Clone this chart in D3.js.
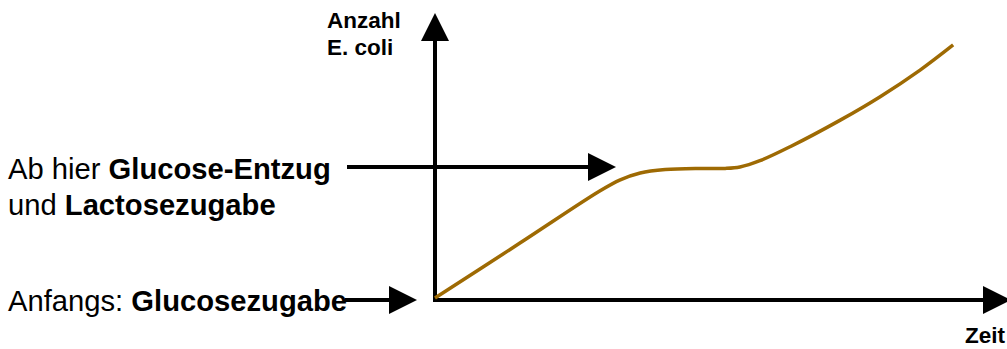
<!DOCTYPE html>
<html>
<head>
<meta charset="utf-8">
<script src="https://cdn.jsdelivr.net/npm/d3@7"></script>
<style>
  html, body { margin: 0; padding: 0; background: #fff; }
  svg { display: block; }
  text { font-family: "Liberation Sans", Arial, Helvetica, sans-serif; fill: #000; }
</style>
</head>
<body>
<svg id="chart" width="1007" height="349"></svg>
<script>
// ---- data (arbitrary units) ----
const time  = [0, 14.9, 28.9, 32.5, 36.0, 40.4, 46.5, 50.9, 53.5, 57.0, 62.3, 71.1, 78.1, 85.1, 90.9];
const count = [0, 19.2, 37.4, 41.3, 43.7, 44.9, 45.3, 45.3, 45.8, 48.0, 52.9, 62.2, 70.4, 79.7, 88.5];
const yAxisLabel = ["Anzahl", "E. coli"];
const xAxisLabel = "Zeit";
const annotations = [
  { lines: [[{ t: "Ab hier ", b: false }, { t: "Glucose-Entzug", b: true }],
            [{ t: "und ", b: false }, { t: "Lactosezugabe", b: true }]],
    arrowFrom: 347, arrowTo: 616, arrowY: 167, textY: 179 },
  { lines: [[{ t: "Anfangs: ", b: false }, { t: "Glucosezugabe", b: true }]],
    arrowFrom: 345, arrowTo: 417, arrowY: 300, textY: 311 }
];

const svg = d3.select("#chart");
const x = d3.scaleLinear().domain([0, 100]).range([435, 1005]);
const y = d3.scaleLinear().domain([0, 100]).range([298, 12]);

const axisY0 = 300, axisX0 = 435;

function arrowHead(tipX, tipY, dir) {
  const L = 28, H = 14;
  let pts;
  if (dir === "up") pts = [[tipX, tipY], [tipX - H, tipY + L], [tipX + H, tipY + L]];
  else pts = [[tipX, tipY], [tipX - L, tipY - H], [tipX - L, tipY + H]];
  svg.append("polygon").attr("points", pts.map(p => p.join(",")).join(" ")).attr("fill", "#000");
}

// y axis
svg.append("line").attr("x1", axisX0).attr("x2", axisX0).attr("y1", axisY0 + 2).attr("y2", 40)
  .attr("stroke", "#000").attr("stroke-width", 4);
arrowHead(axisX0, 13, "up");
// x axis
svg.append("line").attr("x1", axisX0 - 2).attr("x2", 985).attr("y1", axisY0).attr("y2", axisY0)
  .attr("stroke", "#000").attr("stroke-width", 4);
arrowHead(1011, axisY0, "right");

// curve
const line = d3.line().x((d, i) => x(time[i])).y((d, i) => y(count[i])).curve(d3.curveCatmullRom.alpha(0.5));
svg.append("path").attr("d", line(count)).attr("fill", "none")
  .attr("stroke", "#9E6A03").attr("stroke-width", 3.5).attr("stroke-linecap", "butt");

// axis labels
const yl = svg.append("text").attr("font-size", 22.5).attr("font-weight", "bold");
yl.append("tspan").attr("x", 327).attr("y", 28).text(yAxisLabel[0]);
yl.append("tspan").attr("x", 327).attr("y", 55).text(yAxisLabel[1]);
svg.append("text").attr("x", 1005).attr("y", 343).attr("text-anchor", "end")
  .attr("font-size", 22.5).attr("font-weight", "bold").text(xAxisLabel);

// annotations
annotations.forEach(a => {
  a.lines.forEach((ln, i) => {
    const t = svg.append("text").attr("x", 8).attr("y", a.textY + i * 36).attr("font-size", 29.2);
    ln.forEach(seg => t.append("tspan").attr("font-weight", seg.b ? "bold" : "normal").text(seg.t));
  });
  svg.append("line").attr("x1", a.arrowFrom).attr("x2", a.arrowTo - 26).attr("y1", a.arrowY).attr("y2", a.arrowY)
    .attr("stroke", "#000").attr("stroke-width", 4);
  arrowHead(a.arrowTo, a.arrowY, "right");
});
</script>
</body>
</html>
